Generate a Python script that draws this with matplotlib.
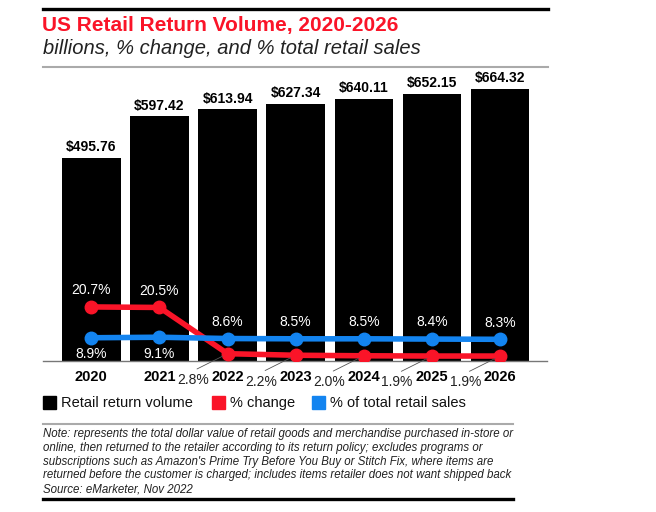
import matplotlib
matplotlib.use("Agg")
import matplotlib.pyplot as plt
from matplotlib.lines import Line2D
from matplotlib.patches import Rectangle

plt.rcParams['font.family'] = ['Liberation Sans', 'DejaVu Sans']

years = ["2020", "2021", "2022", "2023", "2024", "2025", "2026"]
volume = [495.76, 597.42, 613.94, 627.34, 640.11, 652.15, 664.32]
pct_change = [20.7, 20.5, 2.8, 2.2, 2.0, 1.9, 1.9]
pct_total = [8.9, 9.1, 8.6, 8.5, 8.5, 8.4, 8.3]

RED = "#fa1428"
BLUE = "#1384f0"
W, H = 656, 512

fig = plt.figure(figsize=(6.56, 5.12), dpi=100)


def fx(px):
    return px / W


def fy(py):
    return 1 - py / H


# header / footer rules
fig.add_artist(Line2D([fx(43), fx(548)], [fy(9), fy(9)], color="black", lw=2.4))
fig.add_artist(Line2D([fx(43), fx(548)], [fy(67), fy(67)], color="#aaaaaa", lw=1.5))
fig.add_artist(Line2D([fx(43), fx(513)], [fy(424), fy(424)], color="#aaaaaa", lw=1.5))
fig.add_artist(Line2D([fx(43), fx(513)], [fy(499), fy(499)], color="black", lw=2.4))

fig.text(fx(42), fy(26), "US Retail Return Volume, 2020-2026", color=RED,
         fontsize=15, fontweight="bold", va="center", ha="left")
fig.text(fx(43), fy(48), "billions, % change, and % total retail sales",
         fontsize=14.5, style="italic", va="center", ha="left", color="#222222")

ax = fig.add_axes([fx(43), fy(361), fx(547) - fx(43), (361 - 75) / H])
x = list(range(len(years)))
bars = ax.bar(x, volume, width=0.86, color="black", zorder=1)
ax.set_xlim(-0.71, 6.69)
ax.set_ylim(0, 698)
for xi, v in zip(x, volume):
    ax.annotate(f"${v:.2f}", (xi, v), xytext=(0, 2.5), textcoords="offset points",
                ha="center", va="bottom", fontsize=10, fontweight="bold")
ax.set_yticks([])
ax.set_xticks(x)
ax.set_xticklabels(years, fontsize=10.5, fontweight="bold")
ax.tick_params(axis="x", length=0, pad=6.5)
for s in ["top", "right", "left"]:
    ax.spines[s].set_visible(False)
ax.spines["bottom"].set_color("#777777")
ax.spines["bottom"].set_linewidth(1)

ax2 = ax.twinx()
ax2.set_ylim(0, 109.5)
ax2.axis("off")
ax2.plot(x, pct_change, color=RED, lw=4, marker="o", ms=9, zorder=2)
ax2.plot(x, pct_total, color=BLUE, lw=4, marker="o", ms=9, zorder=3)

for i, (c, t) in enumerate(zip(pct_change, pct_total)):
    if i < 2:
        ax2.annotate(f"{c}%", (i, c), xytext=(0, 7), textcoords="offset points",
                     ha="center", va="bottom", color="white", fontsize=10)
        ax2.annotate(f"{t}%", (i, t), xytext=(0, -7), textcoords="offset points",
                     ha="center", va="top", color="white", fontsize=10)
    else:
        ax2.annotate(f"{t}%", (i, t), xytext=(0, 7), textcoords="offset points",
                     ha="center", va="bottom", color="white", fontsize=10)
        ax2.annotate(f"{c}%", (i, c), xytext=(-25, -19), textcoords="offset points",
                     ha="center", va="center", color="#222222", fontsize=10,
                     annotation_clip=False)
        ax2.annotate("", (i, c), xytext=(-22, -11), textcoords="offset points",
                     xycoords="data",
                     arrowprops=dict(arrowstyle="-", color="#555555", lw=0.6,
                                     shrinkA=0, shrinkB=4),
                     annotation_clip=False)

# legend
legend_items = [("Retail return volume", "black", 43),
                ("% change", RED, 212),
                ("% of total retail sales", BLUE, 312)]
for label, col, px in legend_items:
    fig.add_artist(Rectangle((fx(px), fy(409)), fx(13), 13 / H, color=col,
                             transform=fig.transFigure))
    fig.text(fx(px + 18), fy(403), label, fontsize=10.5, va="center", ha="left",
             color="#111111")

note = ("Note: represents the total dollar value of retail goods and merchandise purchased in-store or\n"
        "online, then returned to the retailer according to its return policy; excludes programs or\n"
        "subscriptions such as Amazon's Prime Try Before You Buy or Stitch Fix, where items are\n"
        "returned before the customer is charged; includes items retailer does not want shipped back\n"
        "Source: eMarketer, Nov 2022")
fig.text(fx(43), fy(428), note, fontsize=8.3, style="italic", va="top", ha="left",
         linespacing=1.2, color="#222222")

fig.savefig("out.png", dpi=100)
